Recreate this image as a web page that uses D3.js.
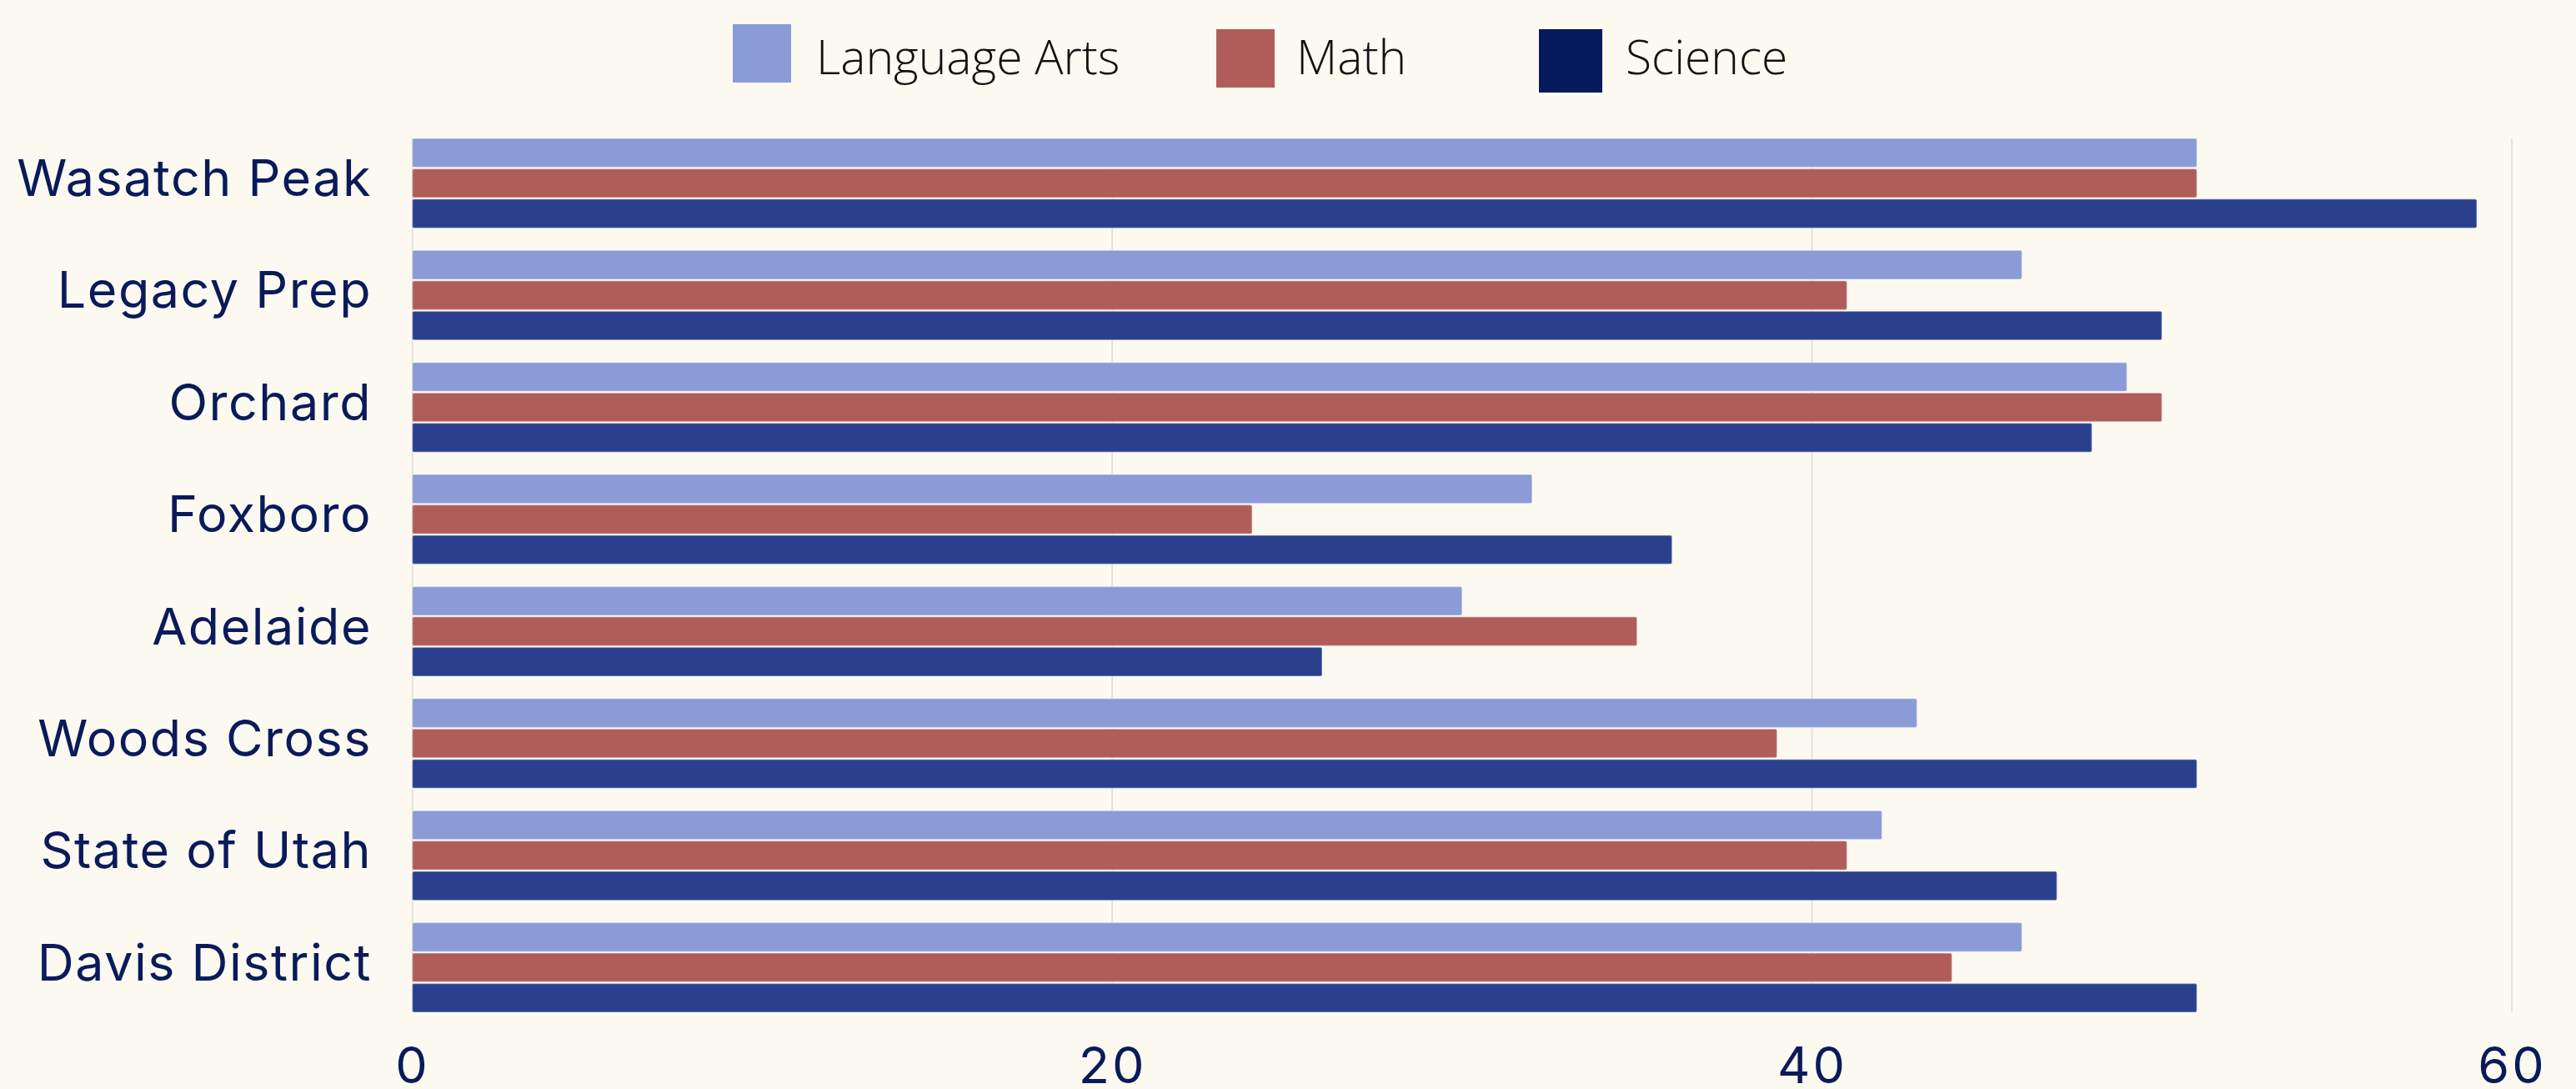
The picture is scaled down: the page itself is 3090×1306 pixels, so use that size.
<!DOCTYPE html>
<html>
<head>
<meta charset="utf-8">
<script src="https://cdn.jsdelivr.net/npm/d3@7"></script>
<style>
  html, body { margin: 0; padding: 0; background: #fcf9f1; }
  svg { display: block; }
</style>
</head>
<body>
<svg id="chart"></svg>
<script>
'use strict';

var schools = ['Wasatch Peak', 'Legacy Prep', 'Orchard', 'Foxboro', 'Adelaide', 'Woods Cross', 'State of Utah', 'Davis District'];
var subjects = ['Language Arts', 'Math', 'Science'];
var languageArts = [51, 46, 49, 32, 30, 43, 42, 46];
var math = [51, 41, 50, 24, 35, 39, 41, 44];
var science = [59, 50, 48, 36, 26, 51, 47, 51];
var xTicks = [0, 20, 40, 60];

var width = 3090,
    height = 1306;

var barColors = ['#8a9bd7', '#b05d5a', '#2b408d'];
var legendColors = ['#8a9bd7', '#b05d5a', '#071a5b'];
var navy = '#0a1a5a';

var rows = schools.map((s, i) => ({
  school: s,
  values: [languageArts[i], math[i], science[i]]
}));

var svg = d3.select('#chart')
  .attr('width', width)
  .attr('height', height);

var x = d3.scaleLinear()
  .domain([0, 60])
  .range([494.6, 3013]);

var y = d3.scaleBand()
  .domain(schools)
  .range([166, 1214])
  .paddingInner(0.2)
  .paddingOuter(0);

var ySub = d3.scaleBand()
  .domain(d3.range(subjects.length))
  .range([0, y.bandwidth()])
  .paddingInner(0.05);

// grid lines
svg.append('g')
  .selectAll('line')
  .data(xTicks)
  .enter()
  .append('line')
  .attr('x1', d => x(d))
  .attr('x2', d => x(d))
  .attr('y1', 166)
  .attr('y2', 1214)
  .style('stroke', '#dedbd3')
  .style('stroke-width', 1.5);

// bars
var groups = svg.append('g')
  .selectAll('g')
  .data(rows)
  .enter()
  .append('g')
  .attr('transform', d => 'translate(0,' + y(d.school) + ')');

groups.selectAll('rect')
  .data(d => d.values)
  .enter()
  .append('rect')
  .attr('x', x(0))
  .attr('y', (d, i) => ySub(i))
  .attr('width', d => x(d) - x(0))
  .attr('height', ySub.bandwidth())
  .attr('rx', 2)
  .style('fill', (d, i) => barColors[i])
  .style('stroke', 'rgba(255,255,255,0.35)')
  .style('stroke-width', 1.5);

// school labels
svg.append('g')
  .selectAll('text')
  .data(schools)
  .enter()
  .append('text')
  .attr('x', 446)
  .attr('y', d => y(d) + y.bandwidth() / 2 - 6)
  .attr('dy', '0.35em')
  .attr('text-anchor', 'end')
  .style('font-family', 'Inter, sans-serif')
  .style('font-size', '61px')
  .style('letter-spacing', '1.5px')
  .style('fill', navy)
  .text(d => d);

// x axis
var xAxis = d3.axisBottom(x)
  .tickValues(xTicks)
  .tickSize(0)
  .tickPadding(0);

var axisG = svg.append('g')
  .attr('transform', 'translate(0,1278)')
  .call(xAxis);
axisG.select('.domain').remove();
axisG.selectAll('text')
  .attr('dy', '0.35em')
  .style('font-family', 'Inter, sans-serif')
  .style('font-size', '61px')
  .style('letter-spacing', '3px')
  .style('fill', navy);

// legend
var legendPos = [
  { sx: 879, sy: 29, size: 70, tx: 979 },
  { sx: 1459, sy: 35, size: 70, tx: 1555 },
  { sx: 1846, sy: 35, size: 76, tx: 1950 }
];

var legend = svg.append('g')
  .selectAll('g')
  .data(subjects)
  .enter()
  .append('g');

legend.append('rect')
  .attr('x', (d, i) => legendPos[i].sx)
  .attr('y', (d, i) => legendPos[i].sy)
  .attr('width', (d, i) => legendPos[i].size)
  .attr('height', (d, i) => legendPos[i].size)
  .style('fill', (d, i) => legendColors[i]);

legend.append('text')
  .attr('x', (d, i) => legendPos[i].tx)
  .attr('y', 89)
  .style('font-family', '"Open Sans", sans-serif')
  .style('font-weight', 300)
  .style('font-size', '57px')
  .style('fill', '#111')
  .text(d => d);
</script>
</body>
</html>
